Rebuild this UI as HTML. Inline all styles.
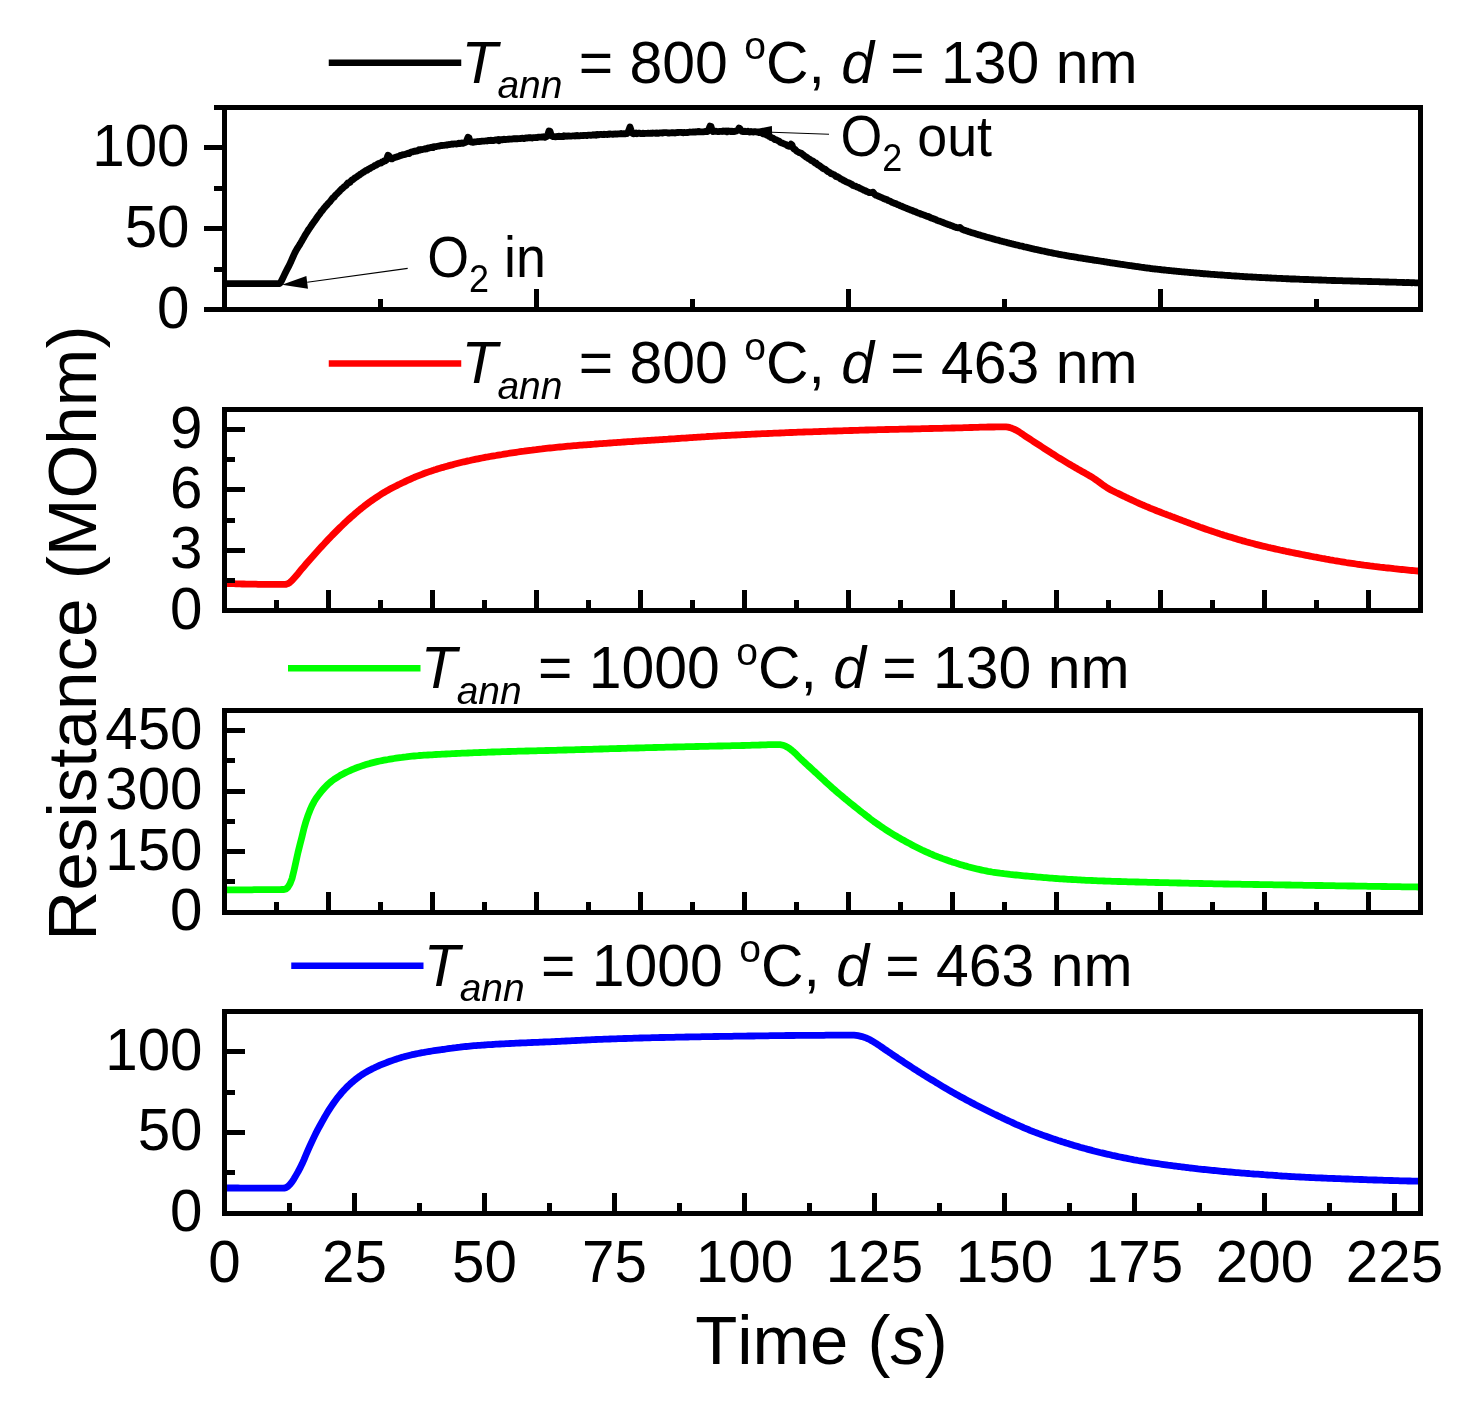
<!DOCTYPE html>
<html lang="en"><head><meta charset="utf-8"><title>Resistance vs Time</title>
<style>html,body{margin:0;padding:0;background:#fff}svg{display:block;will-change:transform}text{font-family:"Liberation Sans", Arial, Helvetica, sans-serif;fill:#000;font-kerning:none;font-variant-ligatures:none;white-space:pre}</style></head><body>
<svg width="1484" height="1408" viewBox="0 0 1484 1408">
<rect width="1484" height="1408" fill="#fff"/>
<path d="M226.0,283.6 L227.0,283.6 L228.0,283.6 L229.0,283.6 L230.0,283.6 L231.0,283.6 L232.0,283.6 L233.0,283.6 L234.0,283.6 L235.0,283.6 L236.0,283.7 L237.0,283.7 L238.0,283.7 L239.0,283.7 L240.0,283.7 L241.0,283.7 L242.0,283.7 L243.0,283.7 L244.0,283.7 L245.0,283.7 L246.0,283.7 L247.0,283.7 L248.0,283.7 L249.0,283.7 L250.0,283.7 L251.0,283.7 L252.0,283.7 L253.0,283.7 L254.0,283.7 L255.0,283.7 L256.0,283.7 L257.0,283.7 L258.0,283.7 L259.0,283.7 L260.0,283.7 L261.0,283.7 L262.0,283.7 L263.0,283.7 L264.0,283.7 L265.0,283.7 L266.0,283.7 L267.0,283.7 L268.0,283.7 L269.0,283.7 L270.0,283.7 L271.0,283.7 L272.0,283.7 L273.0,283.7 L274.0,283.7 L275.0,283.7 L276.0,283.7 L277.0,283.7 L278.0,283.7 L279.0,283.6 L280.0,283.1 L281.0,281.8 L282.0,279.7 L283.0,277.7 L284.0,275.6 L285.0,273.6 L286.0,271.6 L287.0,269.6 L288.0,267.7 L289.0,265.7 L290.0,263.6 L291.0,261.5 L292.0,259.2 L293.0,256.9 L294.0,254.6 L295.0,252.5 L296.0,250.7 L297.0,248.9 L298.0,247.3 L299.0,245.7 L300.0,244.1 L301.0,242.4 L302.0,240.7 L303.0,238.9 L304.0,237.2 L305.0,235.4 L306.0,233.8 L307.0,232.2 L308.0,230.5 L309.0,229.0 L310.0,227.7 L311.0,226.2 L312.0,224.6 L313.0,223.2 L314.0,221.8 L315.0,220.4 L316.0,219.0 L317.0,217.5 L318.0,216.1 L319.0,214.8 L320.0,213.6 L321.0,211.8 L322.0,210.9 L323.0,209.6 L324.0,208.2 L325.0,207.2 L326.0,205.9 L327.0,205.0 L328.0,203.6 L329.0,202.6 L330.0,201.6 L331.0,200.3 L332.0,198.9 L333.0,197.7 L334.0,197.3 L335.0,195.8 L336.0,194.6 L337.0,193.8 L338.0,192.7 L339.0,191.9 L340.0,190.7 L341.0,189.7 L342.0,188.6 L343.0,188.0 L344.0,186.7 L345.0,186.2 L346.0,185.5 L347.0,184.0 L348.0,182.9 L349.0,182.8 L350.0,182.4 L351.0,180.8 L352.0,180.0 L353.0,179.6 L354.0,178.6 L355.0,177.9 L356.0,177.2 L357.0,176.7 L358.0,175.8 L359.0,175.3 L360.0,174.5 L361.0,173.7 L362.0,173.2 L363.0,172.4 L364.0,172.0 L365.0,171.1 L366.0,170.5 L367.0,170.4 L368.0,169.5 L369.0,168.9 L370.0,168.5 L371.0,167.7 L372.0,167.2 L373.0,166.8 L374.0,166.2 L375.0,165.3 L376.0,165.3 L377.0,164.5 L378.0,163.9 L379.0,163.4 L380.0,163.1 L381.0,163.1 L382.0,162.0 L383.0,161.9 L384.0,160.9 L385.0,161.0 L386.0,160.4 L387.0,158.0 L388.0,155.3 L389.0,155.8 L390.0,158.0 L391.0,158.8 L392.0,158.9 L393.0,158.2 L394.0,157.7 L395.0,157.4 L396.0,157.1 L397.0,156.9 L398.0,156.5 L399.0,156.2 L400.0,155.5 L401.0,155.7 L402.0,155.1 L403.0,154.6 L404.0,154.7 L405.0,154.5 L406.0,154.0 L407.0,153.7 L408.0,153.1 L409.0,153.6 L410.0,152.9 L411.0,152.1 L412.0,151.9 L413.0,151.8 L414.0,151.2 L415.0,151.3 L416.0,150.9 L417.0,151.0 L418.0,150.7 L419.0,149.6 L420.0,150.0 L421.0,149.4 L422.0,149.7 L423.0,149.3 L424.0,149.2 L425.0,148.6 L426.0,149.0 L427.0,148.8 L428.0,147.9 L429.0,148.0 L430.0,147.6 L431.0,147.5 L432.0,147.1 L433.0,147.6 L434.0,146.7 L435.0,146.7 L436.0,146.7 L437.0,146.3 L438.0,146.2 L439.0,146.0 L440.0,145.9 L441.0,145.5 L442.0,145.5 L443.0,145.4 L444.0,145.3 L445.0,145.2 L446.0,145.0 L447.0,145.1 L448.0,144.7 L449.0,144.7 L450.0,144.4 L451.0,144.3 L452.0,144.0 L453.0,144.3 L454.0,143.8 L455.0,143.8 L456.0,144.0 L457.0,143.9 L458.0,143.6 L459.0,143.1 L460.0,143.5 L461.0,143.4 L462.0,142.9 L463.0,143.3 L464.0,142.9 L465.0,142.6 L466.0,142.2 L467.0,139.7 L468.0,137.2 L469.0,137.9 L470.0,141.5 L471.0,142.0 L472.0,141.9 L473.0,142.3 L474.0,141.9 L475.0,142.0 L476.0,141.8 L477.0,141.7 L478.0,141.7 L479.0,141.4 L480.0,141.6 L481.0,141.3 L482.0,141.1 L483.0,141.2 L484.0,141.2 L485.0,141.0 L486.0,140.8 L487.0,141.0 L488.0,140.4 L489.0,140.5 L490.0,140.6 L491.0,140.2 L492.0,140.5 L493.0,140.4 L494.0,140.5 L495.0,140.0 L496.0,140.0 L497.0,140.1 L498.0,139.5 L499.0,140.6 L500.0,139.7 L501.0,139.6 L502.0,139.9 L503.0,139.6 L504.0,139.2 L505.0,139.6 L506.0,139.6 L507.0,139.3 L508.0,139.2 L509.0,139.3 L510.0,139.0 L511.0,139.2 L512.0,139.1 L513.0,138.8 L514.0,138.6 L515.0,138.8 L516.0,138.6 L517.0,138.9 L518.0,138.7 L519.0,138.7 L520.0,138.5 L521.0,138.5 L522.0,138.2 L523.0,138.4 L524.0,138.6 L525.0,138.1 L526.0,138.0 L527.0,138.0 L528.0,137.9 L529.0,137.7 L530.0,137.9 L531.0,137.7 L532.0,138.0 L533.0,137.6 L534.0,137.6 L535.0,137.7 L536.0,137.4 L537.0,137.7 L538.0,137.2 L539.0,137.1 L540.0,137.2 L541.0,137.2 L542.0,136.8 L543.0,137.1 L544.0,136.7 L545.0,137.3 L546.0,136.9 L547.0,136.3 L548.0,134.0 L549.0,130.9 L550.0,131.4 L551.0,134.5 L552.0,136.2 L553.0,136.6 L554.0,136.5 L555.0,136.8 L556.0,136.8 L557.0,136.5 L558.0,136.6 L559.0,136.1 L560.0,136.5 L561.0,136.4 L562.0,136.4 L563.0,136.7 L564.0,135.8 L565.0,136.3 L566.0,136.0 L567.0,136.3 L568.0,135.8 L569.0,136.0 L570.0,136.1 L571.0,136.2 L572.0,136.0 L573.0,135.8 L574.0,135.8 L575.0,136.1 L576.0,135.8 L577.0,135.4 L578.0,135.9 L579.0,135.8 L580.0,135.8 L581.0,135.5 L582.0,135.7 L583.0,135.3 L584.0,135.6 L585.0,135.3 L586.0,135.5 L587.0,135.5 L588.0,135.1 L589.0,135.2 L590.0,135.1 L591.0,135.3 L592.0,135.2 L593.0,134.7 L594.0,135.0 L595.0,135.0 L596.0,135.3 L597.0,134.4 L598.0,134.6 L599.0,134.9 L600.0,134.3 L601.0,134.3 L602.0,134.6 L603.0,134.7 L604.0,134.2 L605.0,134.5 L606.0,134.3 L607.0,134.6 L608.0,134.2 L609.0,134.4 L610.0,134.0 L611.0,134.1 L612.0,134.1 L613.0,134.3 L614.0,134.2 L615.0,133.8 L616.0,134.1 L617.0,134.1 L618.0,133.9 L619.0,133.9 L620.0,133.8 L621.0,133.5 L622.0,133.9 L623.0,133.9 L624.0,133.6 L625.0,133.9 L626.0,133.4 L627.0,133.5 L628.0,132.3 L629.0,129.7 L630.0,127.0 L631.0,130.1 L632.0,132.9 L633.0,133.6 L634.0,133.8 L635.0,133.3 L636.0,133.0 L637.0,133.7 L638.0,133.2 L639.0,133.4 L640.0,133.2 L641.0,133.7 L642.0,133.6 L643.0,133.2 L644.0,133.6 L645.0,133.4 L646.0,133.3 L647.0,133.3 L648.0,133.2 L649.0,133.4 L650.0,133.3 L651.0,133.1 L652.0,133.4 L653.0,133.0 L654.0,133.2 L655.0,133.2 L656.0,133.4 L657.0,133.0 L658.0,133.4 L659.0,133.1 L660.0,132.9 L661.0,132.8 L662.0,133.1 L663.0,132.9 L664.0,132.7 L665.0,132.6 L666.0,132.7 L667.0,132.7 L668.0,133.0 L669.0,133.1 L670.0,132.9 L671.0,132.8 L672.0,132.6 L673.0,132.7 L674.0,132.8 L675.0,133.1 L676.0,132.8 L677.0,132.5 L678.0,132.5 L679.0,132.4 L680.0,132.3 L681.0,132.4 L682.0,132.5 L683.0,132.8 L684.0,132.4 L685.0,132.6 L686.0,132.7 L687.0,132.3 L688.0,132.6 L689.0,132.3 L690.0,132.0 L691.0,132.2 L692.0,132.1 L693.0,132.0 L694.0,132.0 L695.0,132.0 L696.0,132.0 L697.0,131.7 L698.0,131.9 L699.0,131.5 L700.0,131.9 L701.0,131.9 L702.0,131.8 L703.0,131.8 L704.0,131.8 L705.0,131.5 L706.0,131.6 L707.0,131.7 L708.0,131.2 L709.0,128.7 L710.0,126.1 L711.0,126.5 L712.0,130.0 L713.0,131.5 L714.0,131.4 L715.0,131.3 L716.0,131.2 L717.0,131.5 L718.0,131.7 L719.0,131.5 L720.0,131.4 L721.0,131.3 L722.0,131.5 L723.0,130.9 L724.0,131.4 L725.0,131.4 L726.0,131.0 L727.0,131.8 L728.0,131.0 L729.0,131.1 L730.0,131.1 L731.0,131.6 L732.0,131.1 L733.0,131.5 L734.0,131.5 L735.0,131.4 L736.0,131.0 L737.0,130.8 L738.0,130.1 L739.0,128.0 L740.0,128.6 L741.0,130.3 L742.0,131.4 L743.0,131.5 L744.0,131.6 L745.0,131.2 L746.0,131.7 L747.0,131.6 L748.0,131.2 L749.0,131.9 L750.0,132.1 L751.0,131.5 L752.0,131.8 L753.0,132.1 L754.0,131.6 L755.0,131.6 L756.0,131.8 L757.0,132.1 L758.0,132.2 L759.0,132.6 L760.0,132.7 L761.0,132.5 L762.0,133.2 L763.0,133.8 L764.0,134.0 L765.0,134.3 L766.0,134.5 L767.0,135.2 L768.0,135.3 L769.0,136.3 L770.0,136.7 L771.0,137.5 L772.0,137.9 L773.0,138.1 L774.0,138.9 L775.0,139.6 L776.0,139.6 L777.0,140.2 L778.0,140.7 L779.0,141.0 L780.0,142.1 L781.0,142.6 L782.0,143.0 L783.0,143.4 L784.0,143.8 L785.0,144.3 L786.0,144.6 L787.0,145.5 L788.0,146.0 L789.0,146.3 L790.0,145.3 L791.0,144.1 L792.0,144.9 L793.0,147.8 L794.0,149.0 L795.0,149.4 L796.0,150.5 L797.0,151.4 L798.0,151.8 L799.0,152.5 L800.0,152.9 L801.0,153.1 L802.0,153.8 L803.0,154.6 L804.0,155.5 L805.0,156.2 L806.0,157.0 L807.0,157.4 L808.0,158.4 L809.0,158.8 L810.0,159.4 L811.0,160.4 L812.0,160.7 L813.0,161.0 L814.0,162.1 L815.0,163.0 L816.0,163.0 L817.0,164.2 L818.0,164.9 L819.0,165.4 L820.0,166.0 L821.0,166.9 L822.0,167.5 L823.0,168.5 L824.0,169.0 L825.0,169.2 L826.0,170.0 L827.0,170.9 L828.0,171.8 L829.0,172.1 L830.0,172.7 L831.0,173.6 L832.0,173.8 L833.0,174.3 L834.0,174.7 L835.0,175.5 L836.0,176.5 L837.0,176.4 L838.0,177.3 L839.0,177.6 L840.0,178.4 L841.0,179.1 L842.0,179.4 L843.0,180.1 L844.0,180.6 L845.0,181.1 L846.0,181.8 L847.0,182.2 L848.0,182.5 L849.0,183.0 L850.0,183.4 L851.0,184.1 L852.0,184.5 L853.0,185.5 L854.0,185.8 L855.0,186.0 L856.0,186.4 L857.0,187.2 L858.0,187.1 L859.0,187.8 L860.0,188.5 L861.0,188.7 L862.0,189.2 L863.0,189.7 L864.0,190.3 L865.0,190.6 L866.0,191.1 L867.0,191.6 L868.0,191.9 L869.0,192.5 L870.0,192.6 L871.0,192.7 L872.0,192.3 L873.0,192.2 L874.0,193.4 L875.0,194.7 L876.0,195.3 L877.0,195.6 L878.0,196.0 L879.0,196.5 L880.0,196.9 L881.0,197.3 L882.0,197.7 L883.0,198.2 L884.0,198.8 L885.0,198.9 L886.0,199.5 L887.0,199.7 L888.0,200.5 L889.0,200.8 L890.0,201.0 L891.0,201.7 L892.0,202.4 L893.0,202.6 L894.0,203.2 L895.0,203.5 L896.0,203.6 L897.0,204.4 L898.0,204.7 L899.0,205.0 L900.0,205.7 L901.0,206.0 L902.0,206.4 L903.0,206.9 L904.0,207.2 L905.0,207.7 L906.0,208.0 L907.0,208.6 L908.0,208.8 L909.0,209.5 L910.0,209.7 L911.0,210.2 L912.0,210.4 L913.0,210.9 L914.0,211.4 L915.0,211.4 L916.0,212.0 L917.0,212.6 L918.0,212.9 L919.0,213.3 L920.0,213.6 L921.0,214.1 L922.0,214.3 L923.0,214.7 L924.0,215.0 L925.0,215.5 L926.0,215.9 L927.0,216.3 L928.0,216.4 L929.0,216.9 L930.0,217.4 L931.0,217.9 L932.0,218.2 L933.0,218.6 L934.0,218.8 L935.0,219.5 L936.0,219.7 L937.0,220.3 L938.0,220.7 L939.0,221.0 L940.0,221.3 L941.0,221.7 L942.0,222.0 L943.0,222.5 L944.0,222.9 L945.0,223.3 L946.0,223.7 L947.0,224.1 L948.0,224.4 L949.0,224.8 L950.0,225.1 L951.0,225.5 L952.0,225.8 L953.0,226.2 L954.0,226.7 L955.0,227.0 L956.0,227.4 L957.0,227.7 L958.0,227.8 L959.0,227.6 L960.0,227.5 L961.0,228.3 L962.0,229.2 L963.0,229.7 L964.0,230.1 L965.0,230.3 L966.0,230.7 L967.0,231.0 L968.0,231.4 L969.0,231.7 L970.0,232.1 L971.0,232.4 L972.0,232.7 L973.0,233.0 L974.0,233.3 L975.0,233.6 L976.0,233.9 L977.0,234.2 L978.0,234.6 L979.0,234.8 L980.0,235.1 L981.0,235.4 L982.0,235.7 L983.0,236.0 L984.0,236.3 L985.0,236.6 L986.0,236.9 L987.0,237.2 L988.0,237.5 L989.0,237.7 L990.0,238.0 L991.0,238.3 L992.0,238.6 L993.0,238.9 L994.0,239.1 L995.0,239.4 L996.0,239.7 L997.0,240.0 L998.0,240.2 L999.0,240.4 L1000.0,240.8 L1001.0,241.0 L1002.0,241.3 L1003.0,241.5 L1004.0,241.8 L1005.0,242.0 L1006.0,242.3 L1007.0,242.6 L1008.0,242.8 L1009.0,243.1 L1010.0,243.3 L1011.0,243.6 L1012.0,243.8 L1013.0,244.1 L1014.0,244.3 L1015.0,244.6 L1016.0,244.8 L1017.0,245.0 L1018.0,245.3 L1019.0,245.6 L1020.0,245.8 L1021.0,246.0 L1022.0,246.2 L1023.0,246.4 L1024.0,246.8 L1025.0,247.0 L1026.0,247.2 L1027.0,247.4 L1028.0,247.6 L1029.0,247.8 L1030.0,248.2 L1031.0,248.4 L1032.0,248.6 L1033.0,248.8 L1034.0,249.1 L1035.0,249.3 L1036.0,249.4 L1037.0,249.7 L1038.0,249.9 L1039.0,250.2 L1040.0,250.4 L1041.0,250.6 L1042.0,250.8 L1043.0,251.0 L1044.0,251.2 L1045.0,251.4 L1046.0,251.7 L1047.0,251.9 L1048.0,252.1 L1049.0,252.3 L1050.0,252.5 L1051.0,252.7 L1052.0,252.9 L1053.0,253.1 L1054.0,253.3 L1055.0,253.5 L1056.0,253.7 L1057.0,253.8 L1058.0,254.1 L1059.0,254.3 L1060.0,254.5 L1061.0,254.6 L1062.0,254.8 L1063.0,255.0 L1064.0,255.2 L1065.0,255.4 L1066.0,255.5 L1067.0,255.8 L1068.0,255.9 L1069.0,256.1 L1070.0,256.3 L1071.0,256.4 L1072.0,256.6 L1073.0,256.7 L1074.0,256.9 L1075.0,257.0 L1076.0,257.2 L1077.0,257.4 L1078.0,257.6 L1079.0,257.8 L1080.0,257.9 L1081.0,258.0 L1082.0,258.2 L1083.0,258.4 L1084.0,258.6 L1085.0,258.7 L1086.0,258.9 L1087.0,259.0 L1088.0,259.1 L1089.0,259.3 L1090.0,259.5 L1091.0,259.6 L1092.0,259.7 L1093.0,260.0 L1094.0,260.1 L1095.0,260.3 L1096.0,260.4 L1097.0,260.5 L1098.0,260.7 L1099.0,260.8 L1100.0,261.0 L1101.0,261.2 L1102.0,261.3 L1103.0,261.4 L1104.0,261.6 L1105.0,261.8 L1106.0,261.9 L1107.0,262.1 L1108.0,262.3 L1109.0,262.4 L1110.0,262.6 L1111.0,262.8 L1112.0,262.9 L1113.0,263.1 L1114.0,263.2 L1115.0,263.4 L1116.0,263.5 L1117.0,263.6 L1118.0,263.8 L1119.0,263.9 L1120.0,264.2 L1121.0,264.3 L1122.0,264.4 L1123.0,264.5 L1124.0,264.7 L1125.0,264.8 L1126.0,265.0 L1127.0,265.2 L1128.0,265.3 L1129.0,265.5 L1130.0,265.6 L1131.0,265.7 L1132.0,265.9 L1133.0,266.0 L1134.0,266.2 L1135.0,266.4 L1136.0,266.4 L1137.0,266.7 L1138.0,266.7 L1139.0,266.9 L1140.0,267.0 L1141.0,267.2 L1142.0,267.3 L1143.0,267.5 L1144.0,267.5 L1145.0,267.8 L1146.0,267.9 L1147.0,268.0 L1148.0,268.1 L1149.0,268.2 L1150.0,268.4 L1151.0,268.6 L1152.0,268.6 L1153.0,268.8 L1154.0,268.9 L1155.0,269.0 L1156.0,269.1 L1157.0,269.2 L1158.0,269.3 L1159.0,269.4 L1160.0,269.5 L1161.0,269.6 L1162.0,269.8 L1163.0,269.9 L1164.0,270.0 L1165.0,270.0 L1166.0,270.2 L1167.0,270.3 L1168.0,270.4 L1169.0,270.5 L1170.0,270.6 L1171.0,270.7 L1172.0,270.8 L1173.0,270.9 L1174.0,271.0 L1175.0,271.1 L1176.0,271.1 L1177.0,271.3 L1178.0,271.4 L1179.0,271.5 L1180.0,271.6 L1181.0,271.7 L1182.0,271.8 L1183.0,271.9 L1184.0,271.9 L1185.0,272.1 L1186.0,272.1 L1187.0,272.2 L1188.0,272.3 L1189.0,272.4 L1190.0,272.5 L1191.0,272.6 L1192.0,272.7 L1193.0,272.7 L1194.0,272.8 L1195.0,272.9 L1196.0,273.0 L1197.0,273.1 L1198.0,273.2 L1199.0,273.2 L1200.0,273.4 L1201.0,273.5 L1202.0,273.5 L1203.0,273.6 L1204.0,273.8 L1205.0,273.7 L1206.0,273.8 L1207.0,273.9 L1208.0,274.0 L1209.0,274.1 L1210.0,274.2 L1211.0,274.3 L1212.0,274.3 L1213.0,274.4 L1214.0,274.4 L1215.0,274.6 L1216.0,274.6 L1217.0,274.7 L1218.0,274.8 L1219.0,274.8 L1220.0,274.9 L1221.0,275.0 L1222.0,275.0 L1223.0,275.1 L1224.0,275.2 L1225.0,275.3 L1226.0,275.4 L1227.0,275.4 L1228.0,275.5 L1229.0,275.6 L1230.0,275.5 L1231.0,275.7 L1232.0,275.8 L1233.0,275.8 L1234.0,275.9 L1235.0,276.0 L1236.0,276.0 L1237.0,276.1 L1238.0,276.1 L1239.0,276.2 L1240.0,276.3 L1241.0,276.3 L1242.0,276.4 L1243.0,276.5 L1244.0,276.6 L1245.0,276.6 L1246.0,276.8 L1247.0,276.7 L1248.0,276.8 L1249.0,276.9 L1250.0,276.9 L1251.0,276.9 L1252.0,277.0 L1253.0,277.1 L1254.0,277.2 L1255.0,277.2 L1256.0,277.2 L1257.0,277.3 L1258.0,277.4 L1259.0,277.4 L1260.0,277.5 L1261.0,277.5 L1262.0,277.6 L1263.0,277.6 L1264.0,277.7 L1265.0,277.7 L1266.0,277.8 L1267.0,277.7 L1268.0,277.9 L1269.0,277.8 L1270.0,278.0 L1271.0,278.0 L1272.0,278.1 L1273.0,278.1 L1274.0,278.2 L1275.0,278.2 L1276.0,278.2 L1277.0,278.3 L1278.0,278.3 L1279.0,278.4 L1280.0,278.4 L1281.0,278.4 L1282.0,278.5 L1283.0,278.6 L1284.0,278.6 L1285.0,278.7 L1286.0,278.6 L1287.0,278.8 L1288.0,278.7 L1289.0,278.8 L1290.0,278.9 L1291.0,279.0 L1292.0,278.9 L1293.0,279.0 L1294.0,279.0 L1295.0,279.0 L1296.0,279.1 L1297.0,279.1 L1298.0,279.2 L1299.0,279.2 L1300.0,279.3 L1301.0,279.3 L1302.0,279.3 L1303.0,279.4 L1304.0,279.5 L1305.0,279.5 L1306.0,279.5 L1307.0,279.5 L1308.0,279.5 L1309.0,279.6 L1310.0,279.7 L1311.0,279.7 L1312.0,279.8 L1313.0,279.7 L1314.0,279.8 L1315.0,279.9 L1316.0,279.9 L1317.0,279.9 L1318.0,279.9 L1319.0,280.0 L1320.0,280.0 L1321.0,280.0 L1322.0,280.1 L1323.0,280.1 L1324.0,280.2 L1325.0,280.2 L1326.0,280.2 L1327.0,280.3 L1328.0,280.3 L1329.0,280.3 L1330.0,280.4 L1331.0,280.4 L1332.0,280.5 L1333.0,280.4 L1334.0,280.5 L1335.0,280.5 L1336.0,280.6 L1337.0,280.6 L1338.0,280.6 L1339.0,280.7 L1340.0,280.7 L1341.0,280.7 L1342.0,280.7 L1343.0,280.8 L1344.0,280.8 L1345.0,280.8 L1346.0,280.9 L1347.0,280.9 L1348.0,280.9 L1349.0,280.9 L1350.0,280.9 L1351.0,281.0 L1352.0,281.0 L1353.0,281.1 L1354.0,281.1 L1355.0,281.1 L1356.0,281.1 L1357.0,281.2 L1358.0,281.2 L1359.0,281.2 L1360.0,281.3 L1361.0,281.3 L1362.0,281.3 L1363.0,281.3 L1364.0,281.3 L1365.0,281.4 L1366.0,281.4 L1367.0,281.4 L1368.0,281.5 L1369.0,281.5 L1370.0,281.5 L1371.0,281.5 L1372.0,281.6 L1373.0,281.6 L1374.0,281.7 L1375.0,281.6 L1376.0,281.7 L1377.0,281.7 L1378.0,281.7 L1379.0,281.7 L1380.0,281.9 L1381.0,281.8 L1382.0,281.9 L1383.0,281.9 L1384.0,281.9 L1385.0,281.9 L1386.0,282.0 L1387.0,282.0 L1388.0,282.0 L1389.0,282.1 L1390.0,282.1 L1391.0,282.2 L1392.0,282.1 L1393.0,282.2 L1394.0,282.2 L1395.0,282.2 L1396.0,282.2 L1397.0,282.3 L1398.0,282.3 L1399.0,282.3 L1400.0,282.4 L1401.0,282.4 L1402.0,282.4 L1403.0,282.5 L1404.0,282.5 L1405.0,282.6 L1406.0,282.6 L1407.0,282.5 L1408.0,282.6 L1409.0,282.5 L1410.0,282.7 L1411.0,282.6 L1412.0,282.8 L1413.0,282.7 L1414.0,282.7 L1415.0,282.8 L1416.0,282.8 L1417.0,282.9 L1418.0,282.9 L1419.0,282.9" fill="none" stroke="#000000" stroke-width="6.8" stroke-linejoin="round" stroke-linecap="butt"/>
<path d="M226.0,583.4 L228.0,583.5 L230.0,583.6 L232.0,583.7 L234.0,583.7 L236.0,583.8 L238.0,583.9 L240.0,583.9 L242.0,584.0 L244.0,584.0 L246.0,584.1 L248.0,584.1 L250.0,584.2 L252.0,584.2 L254.0,584.2 L256.0,584.2 L258.0,584.3 L260.0,584.3 L262.0,584.3 L264.0,584.3 L266.0,584.3 L268.0,584.3 L270.0,584.3 L272.0,584.3 L274.0,584.3 L276.0,584.3 L278.0,584.3 L280.0,584.3 L282.0,584.3 L284.0,584.3 L286.0,584.3 L288.0,583.6 L290.0,582.3 L292.0,580.5 L294.0,578.3 L296.0,576.0 L298.0,573.7 L300.0,571.2 L302.0,568.7 L304.0,566.4 L306.0,564.0 L308.0,561.7 L310.0,559.4 L312.0,557.2 L314.0,554.9 L316.0,552.7 L318.0,550.5 L320.0,548.3 L322.0,546.1 L324.0,544.0 L326.0,541.8 L328.0,539.7 L330.0,537.6 L332.0,535.5 L334.0,533.5 L336.0,531.5 L338.0,529.5 L340.0,527.5 L342.0,525.6 L344.0,523.6 L346.0,521.8 L348.0,519.9 L350.0,518.1 L352.0,516.3 L354.0,514.6 L356.0,512.8 L358.0,511.2 L360.0,509.5 L362.0,507.9 L364.0,506.3 L366.0,504.8 L368.0,503.3 L370.0,501.8 L372.0,500.4 L374.0,499.0 L376.0,497.6 L378.0,496.3 L380.0,495.0 L382.0,493.7 L384.0,492.5 L386.0,491.3 L388.0,490.2 L390.0,489.1 L392.0,488.0 L394.0,487.0 L396.0,486.0 L398.0,484.9 L400.0,484.0 L402.0,483.0 L404.0,482.1 L406.0,481.1 L408.0,480.2 L410.0,479.3 L412.0,478.4 L414.0,477.5 L416.0,476.7 L418.0,475.9 L420.0,475.1 L422.0,474.3 L424.0,473.5 L426.0,472.8 L428.0,472.1 L430.0,471.4 L432.0,470.8 L434.0,470.1 L436.0,469.5 L438.0,468.8 L440.0,468.2 L442.0,467.6 L444.0,467.1 L446.0,466.5 L448.0,465.9 L450.0,465.4 L452.0,464.9 L454.0,464.3 L456.0,463.8 L458.0,463.3 L460.0,462.8 L462.0,462.3 L464.0,461.8 L466.0,461.4 L468.0,460.9 L470.0,460.5 L472.0,460.0 L474.0,459.6 L476.0,459.2 L478.0,458.8 L480.0,458.4 L482.0,458.0 L484.0,457.6 L486.0,457.2 L488.0,456.9 L490.0,456.5 L492.0,456.1 L494.0,455.8 L496.0,455.5 L498.0,455.1 L500.0,454.8 L502.0,454.5 L504.0,454.1 L506.0,453.8 L508.0,453.5 L510.0,453.2 L512.0,452.9 L514.0,452.6 L516.0,452.3 L518.0,452.0 L520.0,451.7 L522.0,451.4 L524.0,451.2 L526.0,450.9 L528.0,450.6 L530.0,450.3 L532.0,450.1 L534.0,449.8 L536.0,449.6 L538.0,449.3 L540.0,449.1 L542.0,448.9 L544.0,448.6 L546.0,448.4 L548.0,448.2 L550.0,448.0 L552.0,447.8 L554.0,447.6 L556.0,447.4 L558.0,447.2 L560.0,447.0 L562.0,446.8 L564.0,446.6 L566.0,446.4 L568.0,446.2 L570.0,446.1 L572.0,445.9 L574.0,445.7 L576.0,445.6 L578.0,445.4 L580.0,445.2 L582.0,445.1 L584.0,444.9 L586.0,444.8 L588.0,444.6 L590.0,444.5 L592.0,444.3 L594.0,444.2 L596.0,444.0 L598.0,443.9 L600.0,443.7 L602.0,443.6 L604.0,443.4 L606.0,443.3 L608.0,443.1 L610.0,443.0 L612.0,442.9 L614.0,442.7 L616.0,442.6 L618.0,442.4 L620.0,442.3 L622.0,442.1 L624.0,442.0 L626.0,441.9 L628.0,441.7 L630.0,441.6 L632.0,441.5 L634.0,441.3 L636.0,441.2 L638.0,441.1 L640.0,440.9 L642.0,440.8 L644.0,440.7 L646.0,440.6 L648.0,440.4 L650.0,440.3 L652.0,440.2 L654.0,440.1 L656.0,439.9 L658.0,439.8 L660.0,439.7 L662.0,439.6 L664.0,439.4 L666.0,439.3 L668.0,439.2 L670.0,439.0 L672.0,438.9 L674.0,438.8 L676.0,438.6 L678.0,438.5 L680.0,438.4 L682.0,438.2 L684.0,438.1 L686.0,438.0 L688.0,437.8 L690.0,437.7 L692.0,437.6 L694.0,437.4 L696.0,437.3 L698.0,437.2 L700.0,437.1 L702.0,436.9 L704.0,436.8 L706.0,436.7 L708.0,436.5 L710.0,436.4 L712.0,436.3 L714.0,436.2 L716.0,436.1 L718.0,435.9 L720.0,435.8 L722.0,435.7 L724.0,435.6 L726.0,435.5 L728.0,435.4 L730.0,435.3 L732.0,435.2 L734.0,435.1 L736.0,435.0 L738.0,434.9 L740.0,434.8 L742.0,434.7 L744.0,434.6 L746.0,434.5 L748.0,434.4 L750.0,434.3 L752.0,434.2 L754.0,434.1 L756.0,434.0 L758.0,433.9 L760.0,433.8 L762.0,433.7 L764.0,433.7 L766.0,433.6 L768.0,433.5 L770.0,433.4 L772.0,433.3 L774.0,433.2 L776.0,433.1 L778.0,433.1 L780.0,433.0 L782.0,432.9 L784.0,432.8 L786.0,432.7 L788.0,432.6 L790.0,432.5 L792.0,432.5 L794.0,432.4 L796.0,432.3 L798.0,432.2 L800.0,432.2 L802.0,432.1 L804.0,432.0 L806.0,431.9 L808.0,431.9 L810.0,431.8 L812.0,431.8 L814.0,431.7 L816.0,431.6 L818.0,431.6 L820.0,431.5 L822.0,431.4 L824.0,431.4 L826.0,431.3 L828.0,431.2 L830.0,431.2 L832.0,431.1 L834.0,431.0 L836.0,431.0 L838.0,430.9 L840.0,430.9 L842.0,430.8 L844.0,430.7 L846.0,430.7 L848.0,430.6 L850.0,430.5 L852.0,430.5 L854.0,430.4 L856.0,430.3 L858.0,430.3 L860.0,430.2 L862.0,430.1 L864.0,430.1 L866.0,430.0 L868.0,430.0 L870.0,429.9 L872.0,429.9 L874.0,429.8 L876.0,429.8 L878.0,429.7 L880.0,429.7 L882.0,429.6 L884.0,429.6 L886.0,429.5 L888.0,429.5 L890.0,429.4 L892.0,429.4 L894.0,429.3 L896.0,429.3 L898.0,429.3 L900.0,429.2 L902.0,429.2 L904.0,429.1 L906.0,429.1 L908.0,429.0 L910.0,429.0 L912.0,429.0 L914.0,428.9 L916.0,428.9 L918.0,428.8 L920.0,428.8 L922.0,428.7 L924.0,428.7 L926.0,428.6 L928.0,428.6 L930.0,428.5 L932.0,428.5 L934.0,428.4 L936.0,428.4 L938.0,428.4 L940.0,428.3 L942.0,428.3 L944.0,428.2 L946.0,428.2 L948.0,428.1 L950.0,428.1 L952.0,428.0 L954.0,428.0 L956.0,427.9 L958.0,427.9 L960.0,427.8 L962.0,427.8 L964.0,427.7 L966.0,427.7 L968.0,427.6 L970.0,427.5 L972.0,427.5 L974.0,427.4 L976.0,427.4 L978.0,427.3 L980.0,427.2 L982.0,427.2 L984.0,427.1 L986.0,427.1 L988.0,427.0 L990.0,427.0 L992.0,427.0 L994.0,427.0 L996.0,426.9 L998.0,426.9 L1000.0,426.9 L1002.0,426.9 L1004.0,426.9 L1006.0,426.9 L1008.0,427.1 L1010.0,427.6 L1012.0,428.3 L1014.0,429.1 L1016.0,430.1 L1018.0,431.2 L1020.0,432.5 L1022.0,433.8 L1024.0,435.2 L1026.0,436.6 L1028.0,437.9 L1030.0,439.2 L1032.0,440.5 L1034.0,441.8 L1036.0,443.1 L1038.0,444.4 L1040.0,445.7 L1042.0,447.0 L1044.0,448.3 L1046.0,449.6 L1048.0,450.9 L1050.0,452.2 L1052.0,453.5 L1054.0,454.7 L1056.0,456.0 L1058.0,457.3 L1060.0,458.5 L1062.0,459.7 L1064.0,460.9 L1066.0,462.1 L1068.0,463.3 L1070.0,464.5 L1072.0,465.7 L1074.0,466.8 L1076.0,468.0 L1078.0,469.2 L1080.0,470.3 L1082.0,471.4 L1084.0,472.5 L1086.0,473.7 L1088.0,474.8 L1090.0,476.0 L1092.0,477.2 L1094.0,478.5 L1096.0,479.9 L1098.0,481.3 L1100.0,482.8 L1102.0,484.3 L1104.0,485.7 L1106.0,487.0 L1108.0,488.3 L1110.0,489.4 L1112.0,490.5 L1114.0,491.5 L1116.0,492.5 L1118.0,493.4 L1120.0,494.4 L1122.0,495.4 L1124.0,496.3 L1126.0,497.3 L1128.0,498.2 L1130.0,499.2 L1132.0,500.1 L1134.0,501.0 L1136.0,502.0 L1138.0,502.9 L1140.0,503.8 L1142.0,504.7 L1144.0,505.5 L1146.0,506.4 L1148.0,507.2 L1150.0,508.1 L1152.0,508.9 L1154.0,509.7 L1156.0,510.5 L1158.0,511.3 L1160.0,512.0 L1162.0,512.8 L1164.0,513.6 L1166.0,514.3 L1168.0,515.1 L1170.0,515.8 L1172.0,516.6 L1174.0,517.3 L1176.0,518.1 L1178.0,518.9 L1180.0,519.6 L1182.0,520.4 L1184.0,521.1 L1186.0,521.9 L1188.0,522.6 L1190.0,523.4 L1192.0,524.1 L1194.0,524.9 L1196.0,525.6 L1198.0,526.3 L1200.0,527.1 L1202.0,527.8 L1204.0,528.5 L1206.0,529.2 L1208.0,529.9 L1210.0,530.6 L1212.0,531.2 L1214.0,531.9 L1216.0,532.6 L1218.0,533.2 L1220.0,533.9 L1222.0,534.5 L1224.0,535.2 L1226.0,535.8 L1228.0,536.4 L1230.0,537.0 L1232.0,537.6 L1234.0,538.2 L1236.0,538.8 L1238.0,539.4 L1240.0,540.0 L1242.0,540.6 L1244.0,541.1 L1246.0,541.7 L1248.0,542.2 L1250.0,542.8 L1252.0,543.3 L1254.0,543.8 L1256.0,544.4 L1258.0,544.9 L1260.0,545.4 L1262.0,545.9 L1264.0,546.3 L1266.0,546.8 L1268.0,547.3 L1270.0,547.7 L1272.0,548.2 L1274.0,548.6 L1276.0,549.1 L1278.0,549.5 L1280.0,550.0 L1282.0,550.4 L1284.0,550.8 L1286.0,551.3 L1288.0,551.7 L1290.0,552.1 L1292.0,552.5 L1294.0,552.9 L1296.0,553.3 L1298.0,553.7 L1300.0,554.1 L1302.0,554.5 L1304.0,554.9 L1306.0,555.3 L1308.0,555.7 L1310.0,556.1 L1312.0,556.5 L1314.0,556.9 L1316.0,557.2 L1318.0,557.6 L1320.0,558.0 L1322.0,558.4 L1324.0,558.7 L1326.0,559.1 L1328.0,559.4 L1330.0,559.8 L1332.0,560.1 L1334.0,560.5 L1336.0,560.8 L1338.0,561.2 L1340.0,561.5 L1342.0,561.8 L1344.0,562.1 L1346.0,562.5 L1348.0,562.8 L1350.0,563.1 L1352.0,563.4 L1354.0,563.7 L1356.0,564.0 L1358.0,564.3 L1360.0,564.5 L1362.0,564.8 L1364.0,565.1 L1366.0,565.3 L1368.0,565.6 L1370.0,565.9 L1372.0,566.1 L1374.0,566.4 L1376.0,566.6 L1378.0,566.8 L1380.0,567.1 L1382.0,567.3 L1384.0,567.5 L1386.0,567.8 L1388.0,568.0 L1390.0,568.2 L1392.0,568.4 L1394.0,568.7 L1396.0,568.9 L1398.0,569.1 L1400.0,569.3 L1402.0,569.5 L1404.0,569.7 L1406.0,569.9 L1408.0,570.1 L1410.0,570.3 L1412.0,570.5 L1414.0,570.7 L1416.0,570.9 L1418.0,571.0 L1419.0,571.2" fill="none" stroke="#ff0000" stroke-width="6.8" stroke-linejoin="round" stroke-linecap="butt"/>
<path d="M226.0,889.9 L228.0,889.9 L230.0,889.9 L232.0,889.9 L234.0,889.9 L236.0,889.8 L238.0,889.8 L240.0,889.8 L242.0,889.8 L244.0,889.8 L246.0,889.8 L248.0,889.8 L250.0,889.8 L252.0,889.8 L254.0,889.7 L256.0,889.7 L258.0,889.7 L260.0,889.7 L262.0,889.7 L264.0,889.7 L266.0,889.6 L268.0,889.6 L270.0,889.6 L272.0,889.6 L274.0,889.6 L276.0,889.6 L278.0,889.6 L280.0,889.6 L282.0,889.5 L284.0,889.5 L286.0,888.9 L288.0,887.1 L290.0,883.8 L292.0,878.6 L294.0,870.5 L296.0,861.6 L298.0,852.4 L300.0,844.4 L302.0,836.6 L304.0,828.3 L306.0,821.3 L308.0,815.4 L310.0,810.2 L312.0,805.6 L314.0,801.8 L316.0,798.5 L318.0,795.7 L320.0,793.1 L322.0,790.6 L324.0,788.4 L326.0,786.2 L328.0,784.3 L330.0,782.5 L332.0,780.9 L334.0,779.4 L336.0,778.1 L338.0,776.8 L340.0,775.6 L342.0,774.5 L344.0,773.4 L346.0,772.4 L348.0,771.5 L350.0,770.6 L352.0,769.7 L354.0,768.8 L356.0,768.0 L358.0,767.3 L360.0,766.6 L362.0,765.9 L364.0,765.2 L366.0,764.6 L368.0,764.0 L370.0,763.4 L372.0,762.9 L374.0,762.4 L376.0,761.9 L378.0,761.4 L380.0,761.0 L382.0,760.6 L384.0,760.2 L386.0,759.8 L388.0,759.5 L390.0,759.1 L392.0,758.8 L394.0,758.5 L396.0,758.2 L398.0,757.9 L400.0,757.6 L402.0,757.4 L404.0,757.1 L406.0,756.9 L408.0,756.6 L410.0,756.4 L412.0,756.2 L414.0,756.0 L416.0,755.8 L418.0,755.7 L420.0,755.5 L422.0,755.4 L424.0,755.2 L426.0,755.1 L428.0,755.0 L430.0,754.9 L432.0,754.8 L434.0,754.6 L436.0,754.5 L438.0,754.4 L440.0,754.3 L442.0,754.2 L444.0,754.1 L446.0,754.0 L448.0,753.9 L450.0,753.8 L452.0,753.7 L454.0,753.6 L456.0,753.5 L458.0,753.4 L460.0,753.3 L462.0,753.2 L464.0,753.1 L466.0,753.1 L468.0,753.0 L470.0,752.9 L472.0,752.8 L474.0,752.7 L476.0,752.6 L478.0,752.6 L480.0,752.5 L482.0,752.4 L484.0,752.3 L486.0,752.3 L488.0,752.2 L490.0,752.1 L492.0,752.0 L494.0,752.0 L496.0,751.9 L498.0,751.8 L500.0,751.8 L502.0,751.7 L504.0,751.6 L506.0,751.6 L508.0,751.5 L510.0,751.5 L512.0,751.4 L514.0,751.3 L516.0,751.3 L518.0,751.2 L520.0,751.2 L522.0,751.1 L524.0,751.1 L526.0,751.0 L528.0,751.0 L530.0,750.9 L532.0,750.9 L534.0,750.8 L536.0,750.8 L538.0,750.7 L540.0,750.7 L542.0,750.6 L544.0,750.6 L546.0,750.5 L548.0,750.5 L550.0,750.4 L552.0,750.4 L554.0,750.3 L556.0,750.3 L558.0,750.2 L560.0,750.2 L562.0,750.1 L564.0,750.0 L566.0,750.0 L568.0,749.9 L570.0,749.9 L572.0,749.8 L574.0,749.8 L576.0,749.7 L578.0,749.7 L580.0,749.6 L582.0,749.5 L584.0,749.5 L586.0,749.4 L588.0,749.4 L590.0,749.3 L592.0,749.3 L594.0,749.2 L596.0,749.1 L598.0,749.1 L600.0,749.0 L602.0,749.0 L604.0,748.9 L606.0,748.9 L608.0,748.8 L610.0,748.7 L612.0,748.7 L614.0,748.6 L616.0,748.6 L618.0,748.5 L620.0,748.5 L622.0,748.4 L624.0,748.3 L626.0,748.3 L628.0,748.2 L630.0,748.2 L632.0,748.1 L634.0,748.1 L636.0,748.0 L638.0,748.0 L640.0,747.9 L642.0,747.8 L644.0,747.8 L646.0,747.7 L648.0,747.7 L650.0,747.6 L652.0,747.6 L654.0,747.5 L656.0,747.5 L658.0,747.4 L660.0,747.4 L662.0,747.3 L664.0,747.3 L666.0,747.2 L668.0,747.2 L670.0,747.1 L672.0,747.1 L674.0,747.0 L676.0,747.0 L678.0,746.9 L680.0,746.9 L682.0,746.8 L684.0,746.8 L686.0,746.7 L688.0,746.7 L690.0,746.7 L692.0,746.6 L694.0,746.6 L696.0,746.5 L698.0,746.5 L700.0,746.4 L702.0,746.4 L704.0,746.3 L706.0,746.3 L708.0,746.3 L710.0,746.2 L712.0,746.2 L714.0,746.1 L716.0,746.1 L718.0,746.0 L720.0,746.0 L722.0,746.0 L724.0,745.9 L726.0,745.9 L728.0,745.8 L730.0,745.8 L732.0,745.7 L734.0,745.7 L736.0,745.7 L738.0,745.6 L740.0,745.6 L742.0,745.5 L744.0,745.5 L746.0,745.4 L748.0,745.4 L750.0,745.3 L752.0,745.2 L754.0,745.2 L756.0,745.1 L758.0,745.1 L760.0,745.0 L762.0,744.9 L764.0,744.9 L766.0,744.8 L768.0,744.7 L770.0,744.7 L772.0,744.7 L774.0,744.6 L776.0,744.6 L778.0,744.6 L780.0,744.7 L782.0,745.0 L784.0,745.5 L786.0,746.4 L788.0,747.5 L790.0,748.9 L792.0,750.5 L794.0,752.2 L796.0,754.0 L798.0,756.1 L800.0,758.1 L802.0,760.0 L804.0,761.9 L806.0,763.7 L808.0,765.6 L810.0,767.4 L812.0,769.2 L814.0,771.1 L816.0,772.9 L818.0,774.8 L820.0,776.6 L822.0,778.5 L824.0,780.3 L826.0,782.2 L828.0,784.0 L830.0,785.8 L832.0,787.6 L834.0,789.3 L836.0,791.1 L838.0,792.8 L840.0,794.5 L842.0,796.2 L844.0,797.9 L846.0,799.5 L848.0,801.2 L850.0,802.8 L852.0,804.4 L854.0,806.0 L856.0,807.6 L858.0,809.2 L860.0,810.8 L862.0,812.4 L864.0,813.9 L866.0,815.5 L868.0,817.0 L870.0,818.6 L872.0,820.1 L874.0,821.6 L876.0,823.0 L878.0,824.4 L880.0,825.8 L882.0,827.2 L884.0,828.5 L886.0,829.8 L888.0,831.1 L890.0,832.4 L892.0,833.6 L894.0,834.8 L896.0,836.0 L898.0,837.2 L900.0,838.3 L902.0,839.5 L904.0,840.6 L906.0,841.7 L908.0,842.8 L910.0,843.8 L912.0,844.9 L914.0,846.0 L916.0,847.0 L918.0,848.0 L920.0,849.0 L922.0,850.0 L924.0,850.9 L926.0,851.8 L928.0,852.7 L930.0,853.6 L932.0,854.4 L934.0,855.3 L936.0,856.1 L938.0,856.9 L940.0,857.6 L942.0,858.4 L944.0,859.1 L946.0,859.8 L948.0,860.5 L950.0,861.2 L952.0,861.9 L954.0,862.5 L956.0,863.1 L958.0,863.8 L960.0,864.4 L962.0,865.0 L964.0,865.6 L966.0,866.1 L968.0,866.7 L970.0,867.2 L972.0,867.7 L974.0,868.2 L976.0,868.7 L978.0,869.2 L980.0,869.6 L982.0,870.1 L984.0,870.5 L986.0,870.9 L988.0,871.3 L990.0,871.6 L992.0,872.0 L994.0,872.3 L996.0,872.6 L998.0,872.9 L1000.0,873.2 L1002.0,873.4 L1004.0,873.7 L1006.0,873.9 L1008.0,874.1 L1010.0,874.4 L1012.0,874.6 L1014.0,874.8 L1016.0,875.0 L1018.0,875.2 L1020.0,875.4 L1022.0,875.6 L1024.0,875.8 L1026.0,876.0 L1028.0,876.2 L1030.0,876.4 L1032.0,876.5 L1034.0,876.7 L1036.0,876.9 L1038.0,877.1 L1040.0,877.2 L1042.0,877.4 L1044.0,877.6 L1046.0,877.7 L1048.0,877.9 L1050.0,878.1 L1052.0,878.2 L1054.0,878.4 L1056.0,878.5 L1058.0,878.6 L1060.0,878.8 L1062.0,878.9 L1064.0,879.0 L1066.0,879.1 L1068.0,879.3 L1070.0,879.4 L1072.0,879.5 L1074.0,879.6 L1076.0,879.7 L1078.0,879.8 L1080.0,879.9 L1082.0,880.1 L1084.0,880.2 L1086.0,880.3 L1088.0,880.3 L1090.0,880.4 L1092.0,880.5 L1094.0,880.6 L1096.0,880.7 L1098.0,880.8 L1100.0,880.9 L1102.0,880.9 L1104.0,881.0 L1106.0,881.1 L1108.0,881.2 L1110.0,881.2 L1112.0,881.3 L1114.0,881.4 L1116.0,881.4 L1118.0,881.5 L1120.0,881.5 L1122.0,881.6 L1124.0,881.7 L1126.0,881.7 L1128.0,881.8 L1130.0,881.8 L1132.0,881.9 L1134.0,881.9 L1136.0,882.0 L1138.0,882.0 L1140.0,882.1 L1142.0,882.1 L1144.0,882.2 L1146.0,882.2 L1148.0,882.3 L1150.0,882.3 L1152.0,882.4 L1154.0,882.4 L1156.0,882.5 L1158.0,882.5 L1160.0,882.6 L1162.0,882.6 L1164.0,882.7 L1166.0,882.7 L1168.0,882.7 L1170.0,882.8 L1172.0,882.8 L1174.0,882.9 L1176.0,882.9 L1178.0,883.0 L1180.0,883.0 L1182.0,883.1 L1184.0,883.1 L1186.0,883.2 L1188.0,883.2 L1190.0,883.3 L1192.0,883.3 L1194.0,883.4 L1196.0,883.4 L1198.0,883.4 L1200.0,883.5 L1202.0,883.5 L1204.0,883.6 L1206.0,883.6 L1208.0,883.7 L1210.0,883.7 L1212.0,883.7 L1214.0,883.8 L1216.0,883.8 L1218.0,883.9 L1220.0,883.9 L1222.0,883.9 L1224.0,884.0 L1226.0,884.0 L1228.0,884.0 L1230.0,884.1 L1232.0,884.1 L1234.0,884.1 L1236.0,884.2 L1238.0,884.2 L1240.0,884.2 L1242.0,884.3 L1244.0,884.3 L1246.0,884.3 L1248.0,884.4 L1250.0,884.4 L1252.0,884.4 L1254.0,884.5 L1256.0,884.5 L1258.0,884.5 L1260.0,884.6 L1262.0,884.6 L1264.0,884.6 L1266.0,884.6 L1268.0,884.7 L1270.0,884.7 L1272.0,884.7 L1274.0,884.8 L1276.0,884.8 L1278.0,884.8 L1280.0,884.9 L1282.0,884.9 L1284.0,884.9 L1286.0,885.0 L1288.0,885.0 L1290.0,885.0 L1292.0,885.1 L1294.0,885.1 L1296.0,885.1 L1298.0,885.2 L1300.0,885.2 L1302.0,885.2 L1304.0,885.3 L1306.0,885.3 L1308.0,885.3 L1310.0,885.4 L1312.0,885.4 L1314.0,885.4 L1316.0,885.5 L1318.0,885.5 L1320.0,885.5 L1322.0,885.5 L1324.0,885.6 L1326.0,885.6 L1328.0,885.6 L1330.0,885.7 L1332.0,885.7 L1334.0,885.7 L1336.0,885.8 L1338.0,885.8 L1340.0,885.8 L1342.0,885.9 L1344.0,885.9 L1346.0,885.9 L1348.0,886.0 L1350.0,886.0 L1352.0,886.0 L1354.0,886.0 L1356.0,886.1 L1358.0,886.1 L1360.0,886.1 L1362.0,886.2 L1364.0,886.2 L1366.0,886.2 L1368.0,886.3 L1370.0,886.3 L1372.0,886.3 L1374.0,886.3 L1376.0,886.4 L1378.0,886.4 L1380.0,886.4 L1382.0,886.5 L1384.0,886.5 L1386.0,886.5 L1388.0,886.6 L1390.0,886.6 L1392.0,886.6 L1394.0,886.6 L1396.0,886.7 L1398.0,886.7 L1400.0,886.7 L1402.0,886.8 L1404.0,886.8 L1406.0,886.8 L1408.0,886.8 L1410.0,886.9 L1412.0,886.9 L1414.0,886.9 L1416.0,886.9 L1418.0,887.0 L1419.0,887.0" fill="none" stroke="#00ff00" stroke-width="6.8" stroke-linejoin="round" stroke-linecap="butt"/>
<path d="M226.0,1188.0 L228.0,1188.0 L230.0,1188.0 L232.0,1188.0 L234.0,1188.0 L236.0,1188.0 L238.0,1188.0 L240.0,1188.1 L242.0,1188.1 L244.0,1188.1 L246.0,1188.1 L248.0,1188.1 L250.0,1188.1 L252.0,1188.1 L254.0,1188.1 L256.0,1188.1 L258.0,1188.1 L260.0,1188.1 L262.0,1188.1 L264.0,1188.1 L266.0,1188.1 L268.0,1188.1 L270.0,1188.1 L272.0,1188.1 L274.0,1188.1 L276.0,1188.1 L278.0,1188.1 L280.0,1188.1 L282.0,1188.1 L284.0,1188.1 L286.0,1187.6 L288.0,1186.3 L290.0,1184.3 L292.0,1181.8 L294.0,1178.8 L296.0,1175.4 L298.0,1171.9 L300.0,1168.1 L302.0,1164.1 L304.0,1159.6 L306.0,1154.8 L308.0,1150.2 L310.0,1145.7 L312.0,1141.3 L314.0,1137.1 L316.0,1133.0 L318.0,1129.1 L320.0,1125.5 L322.0,1121.9 L324.0,1118.3 L326.0,1114.9 L328.0,1111.6 L330.0,1108.4 L332.0,1105.4 L334.0,1102.5 L336.0,1099.8 L338.0,1097.1 L340.0,1094.7 L342.0,1092.3 L344.0,1090.1 L346.0,1088.0 L348.0,1086.0 L350.0,1084.1 L352.0,1082.3 L354.0,1080.6 L356.0,1079.0 L358.0,1077.5 L360.0,1076.0 L362.0,1074.7 L364.0,1073.4 L366.0,1072.2 L368.0,1071.1 L370.0,1070.0 L372.0,1068.9 L374.0,1068.0 L376.0,1067.0 L378.0,1066.1 L380.0,1065.2 L382.0,1064.4 L384.0,1063.6 L386.0,1062.8 L388.0,1062.0 L390.0,1061.3 L392.0,1060.6 L394.0,1059.9 L396.0,1059.2 L398.0,1058.6 L400.0,1057.9 L402.0,1057.3 L404.0,1056.8 L406.0,1056.2 L408.0,1055.7 L410.0,1055.2 L412.0,1054.7 L414.0,1054.3 L416.0,1053.9 L418.0,1053.5 L420.0,1053.1 L422.0,1052.7 L424.0,1052.4 L426.0,1052.0 L428.0,1051.7 L430.0,1051.3 L432.0,1051.0 L434.0,1050.7 L436.0,1050.4 L438.0,1050.1 L440.0,1049.8 L442.0,1049.5 L444.0,1049.3 L446.0,1049.0 L448.0,1048.7 L450.0,1048.4 L452.0,1048.2 L454.0,1047.9 L456.0,1047.7 L458.0,1047.4 L460.0,1047.2 L462.0,1046.9 L464.0,1046.7 L466.0,1046.5 L468.0,1046.3 L470.0,1046.1 L472.0,1045.9 L474.0,1045.7 L476.0,1045.6 L478.0,1045.4 L480.0,1045.3 L482.0,1045.1 L484.0,1045.0 L486.0,1044.8 L488.0,1044.7 L490.0,1044.6 L492.0,1044.5 L494.0,1044.3 L496.0,1044.2 L498.0,1044.1 L500.0,1044.0 L502.0,1043.9 L504.0,1043.8 L506.0,1043.7 L508.0,1043.6 L510.0,1043.5 L512.0,1043.4 L514.0,1043.3 L516.0,1043.2 L518.0,1043.1 L520.0,1043.0 L522.0,1042.9 L524.0,1042.9 L526.0,1042.8 L528.0,1042.7 L530.0,1042.6 L532.0,1042.5 L534.0,1042.4 L536.0,1042.4 L538.0,1042.3 L540.0,1042.2 L542.0,1042.1 L544.0,1042.0 L546.0,1041.9 L548.0,1041.9 L550.0,1041.8 L552.0,1041.7 L554.0,1041.6 L556.0,1041.5 L558.0,1041.4 L560.0,1041.3 L562.0,1041.2 L564.0,1041.1 L566.0,1041.0 L568.0,1040.9 L570.0,1040.8 L572.0,1040.7 L574.0,1040.6 L576.0,1040.5 L578.0,1040.4 L580.0,1040.3 L582.0,1040.2 L584.0,1040.1 L586.0,1040.0 L588.0,1039.9 L590.0,1039.8 L592.0,1039.7 L594.0,1039.6 L596.0,1039.5 L598.0,1039.4 L600.0,1039.4 L602.0,1039.3 L604.0,1039.2 L606.0,1039.1 L608.0,1039.1 L610.0,1039.0 L612.0,1038.9 L614.0,1038.8 L616.0,1038.8 L618.0,1038.7 L620.0,1038.6 L622.0,1038.6 L624.0,1038.5 L626.0,1038.5 L628.0,1038.4 L630.0,1038.3 L632.0,1038.3 L634.0,1038.2 L636.0,1038.2 L638.0,1038.1 L640.0,1038.0 L642.0,1038.0 L644.0,1037.9 L646.0,1037.9 L648.0,1037.8 L650.0,1037.8 L652.0,1037.7 L654.0,1037.7 L656.0,1037.6 L658.0,1037.6 L660.0,1037.5 L662.0,1037.5 L664.0,1037.5 L666.0,1037.4 L668.0,1037.4 L670.0,1037.3 L672.0,1037.3 L674.0,1037.3 L676.0,1037.2 L678.0,1037.2 L680.0,1037.1 L682.0,1037.1 L684.0,1037.1 L686.0,1037.0 L688.0,1037.0 L690.0,1036.9 L692.0,1036.9 L694.0,1036.9 L696.0,1036.8 L698.0,1036.8 L700.0,1036.8 L702.0,1036.7 L704.0,1036.7 L706.0,1036.7 L708.0,1036.6 L710.0,1036.6 L712.0,1036.6 L714.0,1036.5 L716.0,1036.5 L718.0,1036.5 L720.0,1036.4 L722.0,1036.4 L724.0,1036.4 L726.0,1036.4 L728.0,1036.3 L730.0,1036.3 L732.0,1036.3 L734.0,1036.2 L736.0,1036.2 L738.0,1036.2 L740.0,1036.2 L742.0,1036.1 L744.0,1036.1 L746.0,1036.1 L748.0,1036.0 L750.0,1036.0 L752.0,1036.0 L754.0,1036.0 L756.0,1035.9 L758.0,1035.9 L760.0,1035.9 L762.0,1035.9 L764.0,1035.8 L766.0,1035.8 L768.0,1035.8 L770.0,1035.7 L772.0,1035.7 L774.0,1035.7 L776.0,1035.7 L778.0,1035.6 L780.0,1035.6 L782.0,1035.6 L784.0,1035.6 L786.0,1035.5 L788.0,1035.5 L790.0,1035.5 L792.0,1035.5 L794.0,1035.5 L796.0,1035.4 L798.0,1035.4 L800.0,1035.4 L802.0,1035.4 L804.0,1035.4 L806.0,1035.4 L808.0,1035.4 L810.0,1035.3 L812.0,1035.3 L814.0,1035.3 L816.0,1035.3 L818.0,1035.3 L820.0,1035.3 L822.0,1035.3 L824.0,1035.3 L826.0,1035.2 L828.0,1035.2 L830.0,1035.2 L832.0,1035.2 L834.0,1035.2 L836.0,1035.2 L838.0,1035.2 L840.0,1035.2 L842.0,1035.2 L844.0,1035.2 L846.0,1035.2 L848.0,1035.2 L850.0,1035.2 L852.0,1035.2 L854.0,1035.2 L856.0,1035.4 L858.0,1035.7 L860.0,1036.1 L862.0,1036.6 L864.0,1037.2 L866.0,1037.9 L868.0,1038.8 L870.0,1039.8 L872.0,1040.9 L874.0,1042.1 L876.0,1043.3 L878.0,1044.7 L880.0,1046.0 L882.0,1047.4 L884.0,1048.8 L886.0,1050.1 L888.0,1051.5 L890.0,1052.8 L892.0,1054.2 L894.0,1055.6 L896.0,1056.9 L898.0,1058.3 L900.0,1059.6 L902.0,1060.9 L904.0,1062.3 L906.0,1063.6 L908.0,1064.9 L910.0,1066.2 L912.0,1067.5 L914.0,1068.8 L916.0,1070.0 L918.0,1071.3 L920.0,1072.6 L922.0,1073.8 L924.0,1075.1 L926.0,1076.3 L928.0,1077.6 L930.0,1078.8 L932.0,1080.0 L934.0,1081.2 L936.0,1082.5 L938.0,1083.7 L940.0,1084.9 L942.0,1086.1 L944.0,1087.3 L946.0,1088.4 L948.0,1089.6 L950.0,1090.8 L952.0,1091.9 L954.0,1093.1 L956.0,1094.2 L958.0,1095.3 L960.0,1096.4 L962.0,1097.5 L964.0,1098.6 L966.0,1099.7 L968.0,1100.8 L970.0,1101.8 L972.0,1102.9 L974.0,1103.9 L976.0,1105.0 L978.0,1106.0 L980.0,1107.0 L982.0,1108.0 L984.0,1109.0 L986.0,1110.0 L988.0,1111.0 L990.0,1112.0 L992.0,1113.0 L994.0,1114.0 L996.0,1114.9 L998.0,1115.9 L1000.0,1116.8 L1002.0,1117.8 L1004.0,1118.7 L1006.0,1119.7 L1008.0,1120.6 L1010.0,1121.5 L1012.0,1122.4 L1014.0,1123.4 L1016.0,1124.3 L1018.0,1125.1 L1020.0,1126.0 L1022.0,1126.9 L1024.0,1127.8 L1026.0,1128.6 L1028.0,1129.4 L1030.0,1130.3 L1032.0,1131.1 L1034.0,1131.9 L1036.0,1132.6 L1038.0,1133.4 L1040.0,1134.1 L1042.0,1134.9 L1044.0,1135.6 L1046.0,1136.3 L1048.0,1137.0 L1050.0,1137.7 L1052.0,1138.4 L1054.0,1139.1 L1056.0,1139.7 L1058.0,1140.4 L1060.0,1141.0 L1062.0,1141.7 L1064.0,1142.3 L1066.0,1143.0 L1068.0,1143.6 L1070.0,1144.2 L1072.0,1144.8 L1074.0,1145.4 L1076.0,1146.0 L1078.0,1146.6 L1080.0,1147.2 L1082.0,1147.7 L1084.0,1148.3 L1086.0,1148.8 L1088.0,1149.4 L1090.0,1149.9 L1092.0,1150.4 L1094.0,1151.0 L1096.0,1151.5 L1098.0,1152.0 L1100.0,1152.5 L1102.0,1152.9 L1104.0,1153.4 L1106.0,1153.9 L1108.0,1154.3 L1110.0,1154.8 L1112.0,1155.3 L1114.0,1155.7 L1116.0,1156.1 L1118.0,1156.6 L1120.0,1157.0 L1122.0,1157.4 L1124.0,1157.8 L1126.0,1158.2 L1128.0,1158.6 L1130.0,1159.0 L1132.0,1159.4 L1134.0,1159.8 L1136.0,1160.1 L1138.0,1160.5 L1140.0,1160.8 L1142.0,1161.2 L1144.0,1161.5 L1146.0,1161.9 L1148.0,1162.2 L1150.0,1162.5 L1152.0,1162.8 L1154.0,1163.1 L1156.0,1163.4 L1158.0,1163.7 L1160.0,1164.0 L1162.0,1164.3 L1164.0,1164.6 L1166.0,1164.9 L1168.0,1165.2 L1170.0,1165.4 L1172.0,1165.7 L1174.0,1166.0 L1176.0,1166.2 L1178.0,1166.5 L1180.0,1166.7 L1182.0,1167.0 L1184.0,1167.2 L1186.0,1167.5 L1188.0,1167.7 L1190.0,1168.0 L1192.0,1168.2 L1194.0,1168.4 L1196.0,1168.6 L1198.0,1168.9 L1200.0,1169.1 L1202.0,1169.3 L1204.0,1169.5 L1206.0,1169.7 L1208.0,1169.9 L1210.0,1170.1 L1212.0,1170.3 L1214.0,1170.5 L1216.0,1170.7 L1218.0,1170.9 L1220.0,1171.1 L1222.0,1171.3 L1224.0,1171.5 L1226.0,1171.7 L1228.0,1171.9 L1230.0,1172.0 L1232.0,1172.2 L1234.0,1172.4 L1236.0,1172.6 L1238.0,1172.7 L1240.0,1172.9 L1242.0,1173.1 L1244.0,1173.2 L1246.0,1173.4 L1248.0,1173.5 L1250.0,1173.7 L1252.0,1173.8 L1254.0,1174.0 L1256.0,1174.1 L1258.0,1174.2 L1260.0,1174.4 L1262.0,1174.5 L1264.0,1174.7 L1266.0,1174.8 L1268.0,1175.0 L1270.0,1175.1 L1272.0,1175.2 L1274.0,1175.4 L1276.0,1175.5 L1278.0,1175.7 L1280.0,1175.8 L1282.0,1176.0 L1284.0,1176.1 L1286.0,1176.2 L1288.0,1176.4 L1290.0,1176.5 L1292.0,1176.6 L1294.0,1176.7 L1296.0,1176.8 L1298.0,1176.9 L1300.0,1177.0 L1302.0,1177.1 L1304.0,1177.2 L1306.0,1177.3 L1308.0,1177.4 L1310.0,1177.5 L1312.0,1177.6 L1314.0,1177.7 L1316.0,1177.8 L1318.0,1177.9 L1320.0,1177.9 L1322.0,1178.0 L1324.0,1178.1 L1326.0,1178.2 L1328.0,1178.3 L1330.0,1178.3 L1332.0,1178.4 L1334.0,1178.5 L1336.0,1178.6 L1338.0,1178.6 L1340.0,1178.7 L1342.0,1178.8 L1344.0,1178.9 L1346.0,1179.0 L1348.0,1179.0 L1350.0,1179.1 L1352.0,1179.2 L1354.0,1179.3 L1356.0,1179.3 L1358.0,1179.4 L1360.0,1179.5 L1362.0,1179.5 L1364.0,1179.6 L1366.0,1179.7 L1368.0,1179.8 L1370.0,1179.8 L1372.0,1179.9 L1374.0,1180.0 L1376.0,1180.0 L1378.0,1180.1 L1380.0,1180.2 L1382.0,1180.2 L1384.0,1180.3 L1386.0,1180.4 L1388.0,1180.4 L1390.0,1180.5 L1392.0,1180.5 L1394.0,1180.6 L1396.0,1180.7 L1398.0,1180.7 L1400.0,1180.8 L1402.0,1180.8 L1404.0,1180.9 L1406.0,1180.9 L1408.0,1181.0 L1410.0,1181.0 L1412.0,1181.1 L1414.0,1181.1 L1416.0,1181.2 L1418.0,1181.2 L1419.0,1181.3" fill="none" stroke="#0000ff" stroke-width="6.8" stroke-linejoin="round" stroke-linecap="butt"/>
<rect x="224.50" y="107.60" width="1196.00" height="201.90" fill="none" stroke="#000" stroke-width="5.0" shape-rendering="crispEdges"/>
<path d="M224.50,309.50 L204.00,309.50 M224.50,228.74 L204.00,228.74 M224.50,147.98 L204.00,147.98 M224.50,269.12 L214.20,269.12 M224.50,188.36 L214.20,188.36 M224.50,107.60 L214.20,107.60 M536.50,309.50 L536.50,289.00 M848.50,309.50 L848.50,289.00 M1160.50,309.50 L1160.50,289.00 M380.50,309.50 L380.50,299.20 M692.50,309.50 L692.50,299.20 M1004.50,309.50 L1004.50,299.20 M1316.50,309.50 L1316.50,299.20" stroke="#000" stroke-width="5.0" fill="none" shape-rendering="crispEdges"/>
<text x="189.5" y="327.5" font-size="58.3" text-anchor="end">0</text>
<text x="189.5" y="246.7" font-size="58.3" text-anchor="end">50</text>
<text x="189.5" y="166.0" font-size="58.3" text-anchor="end">100</text>
<rect x="224.50" y="409.40" width="1196.00" height="201.20" fill="none" stroke="#000" stroke-width="5.0" shape-rendering="crispEdges"/>
<path d="M224.50,610.60 L245.00,610.60 M224.50,550.24 L245.00,550.24 M224.50,489.88 L245.00,489.88 M224.50,429.52 L245.00,429.52 M224.50,580.42 L234.80,580.42 M224.50,520.06 L234.80,520.06 M224.50,459.70 L234.80,459.70 M224.50,409.40 L234.80,409.40 M328.50,610.60 L328.50,590.10 M432.50,610.60 L432.50,590.10 M536.50,610.60 L536.50,590.10 M640.50,610.60 L640.50,590.10 M744.50,610.60 L744.50,590.10 M848.50,610.60 L848.50,590.10 M952.50,610.60 L952.50,590.10 M1056.50,610.60 L1056.50,590.10 M1160.50,610.60 L1160.50,590.10 M1264.50,610.60 L1264.50,590.10 M1368.50,610.60 L1368.50,590.10 M276.50,610.60 L276.50,600.30 M380.50,610.60 L380.50,600.30 M484.50,610.60 L484.50,600.30 M588.50,610.60 L588.50,600.30 M692.50,610.60 L692.50,600.30 M796.50,610.60 L796.50,600.30 M900.50,610.60 L900.50,600.30 M1004.50,610.60 L1004.50,600.30 M1108.50,610.60 L1108.50,600.30 M1212.50,610.60 L1212.50,600.30 M1316.50,610.60 L1316.50,600.30" stroke="#000" stroke-width="5.0" fill="none" shape-rendering="crispEdges"/>
<text x="202.5" y="628.6" font-size="58.3" text-anchor="end">0</text>
<text x="202.5" y="568.2" font-size="58.3" text-anchor="end">3</text>
<text x="202.5" y="507.9" font-size="58.3" text-anchor="end">6</text>
<text x="202.5" y="447.5" font-size="58.3" text-anchor="end">9</text>
<rect x="224.50" y="710.50" width="1196.00" height="201.50" fill="none" stroke="#000" stroke-width="5.0" shape-rendering="crispEdges"/>
<path d="M224.50,912.00 L245.00,912.00 M224.50,851.55 L245.00,851.55 M224.50,791.10 L245.00,791.10 M224.50,730.65 L245.00,730.65 M224.50,881.77 L234.80,881.77 M224.50,821.33 L234.80,821.33 M224.50,760.88 L234.80,760.88 M224.50,710.50 L234.80,710.50 M328.50,912.00 L328.50,891.50 M432.50,912.00 L432.50,891.50 M536.50,912.00 L536.50,891.50 M640.50,912.00 L640.50,891.50 M744.50,912.00 L744.50,891.50 M848.50,912.00 L848.50,891.50 M952.50,912.00 L952.50,891.50 M1056.50,912.00 L1056.50,891.50 M1160.50,912.00 L1160.50,891.50 M1264.50,912.00 L1264.50,891.50 M1368.50,912.00 L1368.50,891.50 M276.50,912.00 L276.50,901.70 M380.50,912.00 L380.50,901.70 M484.50,912.00 L484.50,901.70 M588.50,912.00 L588.50,901.70 M692.50,912.00 L692.50,901.70 M796.50,912.00 L796.50,901.70 M900.50,912.00 L900.50,901.70 M1004.50,912.00 L1004.50,901.70 M1108.50,912.00 L1108.50,901.70 M1212.50,912.00 L1212.50,901.70 M1316.50,912.00 L1316.50,901.70" stroke="#000" stroke-width="5.0" fill="none" shape-rendering="crispEdges"/>
<text x="202.5" y="930.0" font-size="58.3" text-anchor="end">0</text>
<text x="202.5" y="869.5" font-size="58.3" text-anchor="end">150</text>
<text x="202.5" y="809.1" font-size="58.3" text-anchor="end">300</text>
<text x="202.5" y="748.6" font-size="58.3" text-anchor="end">450</text>
<rect x="224.50" y="1011.50" width="1196.00" height="201.50" fill="none" stroke="#000" stroke-width="5.0" shape-rendering="crispEdges"/>
<path d="M224.50,1213.00 L245.00,1213.00 M224.50,1132.40 L245.00,1132.40 M224.50,1051.80 L245.00,1051.80 M224.50,1172.70 L234.80,1172.70 M224.50,1092.10 L234.80,1092.10 M224.50,1011.50 L234.80,1011.50 M354.50,1213.00 L354.50,1192.50 M484.50,1213.00 L484.50,1192.50 M614.50,1213.00 L614.50,1192.50 M744.50,1213.00 L744.50,1192.50 M874.50,1213.00 L874.50,1192.50 M1004.50,1213.00 L1004.50,1192.50 M1134.50,1213.00 L1134.50,1192.50 M1264.50,1213.00 L1264.50,1192.50 M1394.50,1213.00 L1394.50,1192.50 M289.50,1213.00 L289.50,1202.70 M419.50,1213.00 L419.50,1202.70 M549.50,1213.00 L549.50,1202.70 M679.50,1213.00 L679.50,1202.70 M809.50,1213.00 L809.50,1202.70 M939.50,1213.00 L939.50,1202.70 M1069.50,1213.00 L1069.50,1202.70 M1199.50,1213.00 L1199.50,1202.70 M1329.50,1213.00 L1329.50,1202.70" stroke="#000" stroke-width="5.0" fill="none" shape-rendering="crispEdges"/>
<text x="202.5" y="1231.0" font-size="58.3" text-anchor="end">0</text>
<text x="202.5" y="1150.4" font-size="58.3" text-anchor="end">50</text>
<text x="202.5" y="1069.8" font-size="58.3" text-anchor="end">100</text>
<text x="224.5" y="1282.2" font-size="58.3" text-anchor="middle">0</text>
<text x="354.5" y="1282.2" font-size="58.3" text-anchor="middle">25</text>
<text x="484.5" y="1282.2" font-size="58.3" text-anchor="middle">50</text>
<text x="614.5" y="1282.2" font-size="58.3" text-anchor="middle">75</text>
<text x="744.5" y="1282.2" font-size="58.3" text-anchor="middle">100</text>
<text x="874.5" y="1282.2" font-size="58.3" text-anchor="middle">125</text>
<text x="1004.5" y="1282.2" font-size="58.3" text-anchor="middle">150</text>
<text x="1134.5" y="1282.2" font-size="58.3" text-anchor="middle">175</text>
<text x="1264.5" y="1282.2" font-size="58.3" text-anchor="middle">200</text>
<text x="1394.5" y="1282.2" font-size="58.3" text-anchor="middle">225</text>
<text x="821.5" y="1363.8" font-size="68.9" text-anchor="middle">Time (<tspan font-style="italic">s</tspan>)</text>
<text transform="translate(95.9,633.1) rotate(-90)" font-size="69.2" text-anchor="middle">Resistance (MOhm)</text>
<line x1="328.75" y1="62.80" x2="461.25" y2="62.80" stroke="#000000" stroke-width="6.4"/>
<text x="461.45" y="82.60" font-size="58.9" xml:space="preserve"><tspan font-style="italic">T</tspan><tspan font-style="italic" font-size="39.0" dy="15.8">ann</tspan><tspan dy="-15.8"> = 800 </tspan><tspan font-size="39.0" dy="-23.4">o</tspan><tspan dy="23.4">C, </tspan><tspan font-style="italic">d</tspan> = 130 nm</text>
<line x1="328.75" y1="363.50" x2="461.25" y2="363.50" stroke="#ff0000" stroke-width="6.4"/>
<text x="461.45" y="383.30" font-size="58.9" xml:space="preserve"><tspan font-style="italic">T</tspan><tspan font-style="italic" font-size="39.0" dy="15.8">ann</tspan><tspan dy="-15.8"> = 800 </tspan><tspan font-size="39.0" dy="-23.4">o</tspan><tspan dy="23.4">C, </tspan><tspan font-style="italic">d</tspan> = 463 nm</text>
<line x1="288.00" y1="668.20" x2="420.50" y2="668.20" stroke="#00ff00" stroke-width="6.4"/>
<text x="420.70" y="688.00" font-size="58.9" xml:space="preserve"><tspan font-style="italic">T</tspan><tspan font-style="italic" font-size="39.0" dy="15.8">ann</tspan><tspan dy="-15.8"> = 1000 </tspan><tspan font-size="39.0" dy="-23.4">o</tspan><tspan dy="23.4">C, </tspan><tspan font-style="italic">d</tspan> = 130 nm</text>
<line x1="291.25" y1="965.70" x2="423.50" y2="965.70" stroke="#0000ff" stroke-width="6.4"/>
<text x="423.70" y="985.50" font-size="58.9" xml:space="preserve"><tspan font-style="italic">T</tspan><tspan font-style="italic" font-size="39.0" dy="15.8">ann</tspan><tspan dy="-15.8"> = 1000 </tspan><tspan font-size="39.0" dy="-23.4">o</tspan><tspan dy="23.4">C, </tspan><tspan font-style="italic">d</tspan> = 463 nm</text>
<line x1="407.70" y1="268.40" x2="307.20" y2="282.30" stroke="#000" stroke-width="1.15"/>
<polygon points="281.90,284.80 306.40,275.90 308.00,288.70" fill="#000"/>
<line x1="829.00" y1="134.30" x2="771.90" y2="132.20" stroke="#000" stroke-width="1.15"/>
<polygon points="746.40,131.00 771.90,126.00 772.30,138.30" fill="#000"/>
<text transform="translate(427.20,277.00) scale(0.923,1)" font-size="58.3" xml:space="preserve">O<tspan font-size="39.0" dy="15">2</tspan><tspan dy="-15"> in</tspan></text>
<text transform="translate(840.40,156.00) scale(0.923,1)" font-size="58.3" xml:space="preserve">O<tspan font-size="39.0" dy="15">2</tspan><tspan dy="-15"> out</tspan></text>
</svg></body></html>
